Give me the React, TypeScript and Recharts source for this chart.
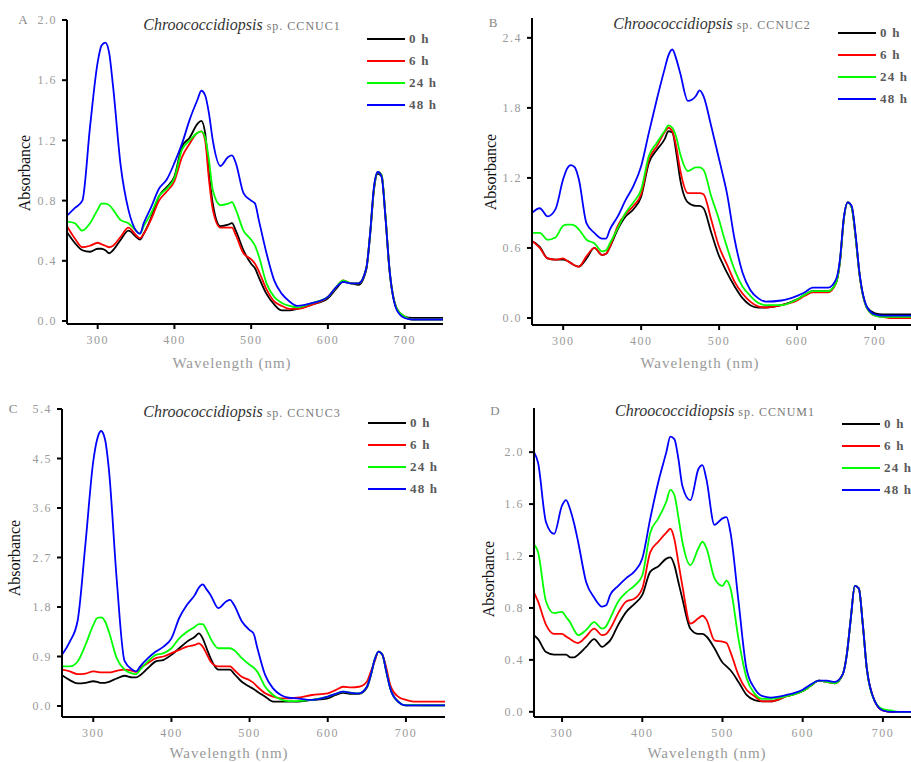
import { LineChart, Line, XAxis, YAxis, Legend } from "recharts"

// wavelength grid (nm) shared by all four spectra
const waveHead = [260, 270, 280, 290, 300, 305, 310, 315, 320, 330, 340, 350, 355, 360, 370, 380, 390, 400, 410, 420, 430, 435, 440, 445, 450, 460, 470, 475, 480, 490, 500, 505, 510, 520, 530, 540, 550, 560]
const waveTail = [580, 600, 610, 620, 630, 640, 650, 655, 660, 665, 670, 675, 680, 690, 700, 710, 720, 750]
const wavelength = [...waveHead, ...waveTail]
const wavelengthD = [265, ...wavelength.slice(1)]

const seriesNames = ["0 h", "6 h", "24 h", "48 h"]
const seriesKeys = ["h0", "h6", "h24", "h48"]
const seriesColors = ["#000000", "#ff0000", "#00ff00", "#0000ff"]

const xTicks = [300, 400, 500, 600, 700]
const yTicksA = [0, 0.4, 0.8, 1.2, 1.6, 2.0]
const yTicksB = [0, 0.6, 1.2, 1.8, 2.4]
const yTicksC = [0, 0.9, 1.8, 2.7, 3.6, 4.5, 5.4]
const yTicksD = [0, 0.4, 0.8, 1.2, 1.6, 2.0]

// A - CCNUC1
const a0 = [0.59, 0.52, 0.47, 0.46, 0.48, 0.48, 0.47, 0.45, 0.47, 0.54, 0.60, 0.56, 0.54, 0.58, 0.69, 0.83, 0.89, 0.96, 1.16, 1.22, 1.31, 1.33, 1.25, 0.98, 0.78, 0.63, 0.64, 0.65, 0.60, 0.47, 0.38, 0.35, 0.29, 0.18, 0.11, 0.07, 0.07, 0.08,
  0.11, 0.15, 0.21, 0.26, 0.25, 0.24, 0.34, 0.57, 0.87, 0.98, 0.96, 0.69, 0.35, 0.08, 0.03, 0.02, 0.02, 0.02]
const a6 = [0.63, 0.55, 0.49, 0.50, 0.52, 0.51, 0.50, 0.49, 0.50, 0.56, 0.62, 0.57, 0.55, 0.58, 0.68, 0.80, 0.86, 0.93, 1.09, 1.18, 1.25, 1.26, 1.20, 0.94, 0.74, 0.62, 0.62, 0.62, 0.57, 0.45, 0.41, 0.38, 0.33, 0.21, 0.13, 0.10, 0.08, 0.08,
  0.11, 0.16, 0.22, 0.27, 0.25, 0.25, 0.35, 0.58, 0.88, 0.99, 0.97, 0.70, 0.36, 0.08, 0.03, 0.01, 0.01, 0.01]
const a24 = [0.66, 0.65, 0.60, 0.65, 0.74, 0.78, 0.78, 0.77, 0.74, 0.67, 0.65, 0.60, 0.58, 0.63, 0.72, 0.83, 0.88, 0.95, 1.14, 1.20, 1.25, 1.26, 1.22, 1.07, 0.87, 0.77, 0.78, 0.79, 0.74, 0.60, 0.54, 0.50, 0.43, 0.25, 0.16, 0.12, 0.10, 0.09,
  0.12, 0.16, 0.22, 0.27, 0.25, 0.25, 0.35, 0.58, 0.88, 0.99, 0.97, 0.70, 0.36, 0.08, 0.03, 0.01, 0.01, 0.01]
const a48 = [0.70, 0.75, 0.80, 1.29, 1.72, 1.83, 1.85, 1.78, 1.56, 1.03, 0.74, 0.60, 0.58, 0.65, 0.76, 0.88, 0.94, 1.05, 1.18, 1.34, 1.47, 1.53, 1.50, 1.38, 1.20, 1.03, 1.09, 1.10, 1.05, 0.85, 0.80, 0.78, 0.67, 0.45, 0.27, 0.18, 0.13, 0.10,
  0.12, 0.16, 0.22, 0.26, 0.25, 0.25, 0.35, 0.58, 0.89, 0.99, 0.96, 0.69, 0.36, 0.07, 0.02, 0.01, 0.01, 0.01]

// B - CCNUC2
const b0 = [0.66, 0.61, 0.51, 0.50, 0.50, 0.49, 0.47, 0.45, 0.44, 0.51, 0.60, 0.54, 0.55, 0.61, 0.76, 0.87, 0.93, 1.04, 1.33, 1.44, 1.53, 1.60, 1.59, 1.42, 1.19, 0.99, 0.96, 0.96, 0.94, 0.73, 0.53, 0.46, 0.39, 0.27, 0.17, 0.11, 0.09, 0.09,
  0.11, 0.16, 0.20, 0.23, 0.23, 0.23, 0.30, 0.48, 0.85, 0.99, 0.95, 0.70, 0.38, 0.09, 0.04, 0.03, 0.03, 0.03]
const b6 = [0.66, 0.60, 0.51, 0.50, 0.51, 0.49, 0.47, 0.45, 0.44, 0.53, 0.60, 0.54, 0.55, 0.61, 0.79, 0.89, 0.96, 1.06, 1.36, 1.47, 1.59, 1.63, 1.60, 1.47, 1.27, 1.07, 1.07, 1.07, 1.06, 0.84, 0.61, 0.53, 0.46, 0.31, 0.21, 0.14, 0.10, 0.09,
  0.11, 0.15, 0.19, 0.22, 0.22, 0.22, 0.30, 0.48, 0.85, 0.99, 0.95, 0.70, 0.38, 0.08, 0.02, 0.01, 0.00, 0.00]
const b24 = [0.73, 0.73, 0.67, 0.69, 0.79, 0.80, 0.80, 0.79, 0.76, 0.67, 0.64, 0.57, 0.58, 0.64, 0.77, 0.90, 0.99, 1.10, 1.39, 1.50, 1.60, 1.65, 1.63, 1.55, 1.41, 1.26, 1.29, 1.29, 1.27, 1.04, 0.84, 0.72, 0.61, 0.41, 0.27, 0.19, 0.13, 0.11,
  0.11, 0.16, 0.20, 0.23, 0.23, 0.23, 0.30, 0.48, 0.85, 0.99, 0.95, 0.70, 0.38, 0.08, 0.02, 0.01, 0.01, 0.01]
const b48 = [0.90, 0.94, 0.87, 0.93, 1.19, 1.28, 1.31, 1.29, 1.19, 0.81, 0.73, 0.68, 0.68, 0.76, 0.87, 1.01, 1.13, 1.30, 1.59, 1.87, 2.13, 2.25, 2.30, 2.22, 2.10, 1.86, 1.90, 1.95, 1.90, 1.64, 1.36, 1.22, 1.07, 0.67, 0.39, 0.24, 0.17, 0.14,
  0.15, 0.19, 0.22, 0.26, 0.26, 0.26, 0.33, 0.50, 0.86, 0.99, 0.96, 0.72, 0.39, 0.09, 0.03, 0.02, 0.02, 0.02]

// C - CCNUC3
const c0 = [0.56, 0.47, 0.41, 0.42, 0.45, 0.44, 0.42, 0.42, 0.44, 0.50, 0.55, 0.52, 0.52, 0.56, 0.69, 0.81, 0.84, 0.93, 1.05, 1.17, 1.26, 1.32, 1.23, 1.05, 0.87, 0.66, 0.66, 0.66, 0.59, 0.44, 0.35, 0.31, 0.26, 0.17, 0.08, 0.08, 0.08, 0.08,
  0.11, 0.14, 0.20, 0.24, 0.22, 0.22, 0.33, 0.55, 0.84, 0.99, 0.93, 0.62, 0.32, 0.08, 0.01, 0.01, 0.01, 0.01]
const c6 = [0.66, 0.63, 0.58, 0.59, 0.63, 0.62, 0.61, 0.61, 0.61, 0.64, 0.66, 0.64, 0.62, 0.69, 0.78, 0.87, 0.90, 0.96, 1.02, 1.08, 1.11, 1.14, 1.08, 0.95, 0.81, 0.72, 0.72, 0.72, 0.66, 0.53, 0.47, 0.42, 0.35, 0.23, 0.17, 0.14, 0.14, 0.15,
  0.20, 0.23, 0.29, 0.35, 0.34, 0.35, 0.44, 0.62, 0.81, 0.99, 0.93, 0.69, 0.38, 0.17, 0.11, 0.08, 0.08, 0.08]
const c24 = [0.72, 0.72, 0.81, 1.11, 1.47, 1.60, 1.61, 1.54, 1.35, 0.87, 0.66, 0.59, 0.58, 0.66, 0.81, 0.93, 0.96, 1.05, 1.23, 1.35, 1.44, 1.49, 1.49, 1.38, 1.23, 1.05, 1.05, 1.05, 1.02, 0.87, 0.75, 0.70, 0.62, 0.35, 0.20, 0.12, 0.09, 0.09,
  0.11, 0.17, 0.22, 0.26, 0.24, 0.23, 0.35, 0.56, 0.84, 0.99, 0.93, 0.62, 0.32, 0.08, 0.01, 0.02, 0.01, 0.01]
const c48 = [0.93, 1.17, 1.55, 2.95, 4.45, 4.85, 5.00, 4.85, 4.30, 2.30, 0.82, 0.66, 0.63, 0.72, 0.87, 0.99, 1.08, 1.23, 1.60, 1.84, 2.02, 2.15, 2.21, 2.12, 2.02, 1.78, 1.90, 1.93, 1.84, 1.54, 1.38, 1.32, 1.05, 0.56, 0.32, 0.20, 0.15, 0.14,
  0.11, 0.17, 0.22, 0.26, 0.24, 0.23, 0.35, 0.56, 0.84, 0.99, 0.93, 0.62, 0.32, 0.08, 0.01, 0.01, 0.01, 0.01]

// D - CCNUM1
const d0 = [0.59, 0.56, 0.46, 0.44, 0.44, 0.44, 0.42, 0.42, 0.44, 0.50, 0.56, 0.50, 0.52, 0.55, 0.67, 0.77, 0.83, 0.90, 1.08, 1.12, 1.18, 1.19, 1.13, 1.00, 0.87, 0.64, 0.60, 0.60, 0.58, 0.49, 0.38, 0.35, 0.32, 0.23, 0.13, 0.09, 0.08, 0.08,
  0.12, 0.16, 0.20, 0.24, 0.23, 0.22, 0.29, 0.44, 0.72, 0.97, 0.95, 0.67, 0.33, 0.08, 0.01, 0.00, 0.00, 0.00]
const d6 = [0.92, 0.85, 0.67, 0.60, 0.60, 0.58, 0.56, 0.54, 0.53, 0.58, 0.64, 0.59, 0.60, 0.64, 0.76, 0.85, 0.87, 0.95, 1.23, 1.31, 1.38, 1.41, 1.33, 1.15, 0.97, 0.68, 0.72, 0.74, 0.71, 0.55, 0.54, 0.53, 0.46, 0.28, 0.17, 0.12, 0.08, 0.08,
  0.12, 0.16, 0.20, 0.24, 0.23, 0.22, 0.29, 0.44, 0.72, 0.97, 0.95, 0.67, 0.33, 0.08, 0.01, 0.00, 0.00, 0.00]
const d24 = [1.29, 1.23, 0.85, 0.76, 0.77, 0.73, 0.69, 0.63, 0.59, 0.63, 0.69, 0.64, 0.66, 0.72, 0.85, 0.92, 0.97, 1.05, 1.38, 1.49, 1.62, 1.71, 1.67, 1.50, 1.31, 1.13, 1.26, 1.31, 1.26, 1.03, 0.97, 1.01, 0.95, 0.56, 0.26, 0.14, 0.10, 0.10,
  0.12, 0.16, 0.20, 0.24, 0.23, 0.22, 0.29, 0.44, 0.72, 0.97, 0.95, 0.67, 0.33, 0.08, 0.02, 0.01, 0.00, 0.00]
const d48 = [2.00, 1.92, 1.46, 1.37, 1.59, 1.63, 1.56, 1.45, 1.31, 1.00, 0.88, 0.81, 0.82, 0.90, 0.97, 1.03, 1.08, 1.18, 1.49, 1.77, 2.00, 2.12, 2.10, 1.95, 1.74, 1.63, 1.87, 1.90, 1.79, 1.44, 1.49, 1.50, 1.38, 0.85, 0.33, 0.18, 0.12, 0.11,
  0.13, 0.17, 0.21, 0.24, 0.24, 0.23, 0.29, 0.44, 0.72, 0.97, 0.95, 0.67, 0.33, 0.08, 0.01, 0.00, 0.00, 0.00]

const serif = "'Liberation Serif', 'Times New Roman', serif"

function buildRows(waves, s0, s6, s24, s48) {
  return waves.map((w, i) => ({ w, h0: s0[i], h6: s6[i], h24: s24[i], h48: s48[i] }))
}

const panels = [
  {
    letter: "A", strain: "CCNUC1", rows: buildRows(wavelength, a0, a6, a24, a48),
    left: 0, top: 0, width: 460, height: 380, margin: { top: 20, right: 17, bottom: 26, left: 27 },
    xDomain: [260, 750], yDomain: [-0.02, 2.0], yTicks: yTicksA, legend: { left: 367, top: 28 },
    letterPos: [23, 20], titlePos: [242, 25], yLabelPos: [25, 173], xLabelPos: [232, 363],
  },
  {
    letter: "B", strain: "CCNUC2", rows: buildRows(wavelength, b0, b6, b24, b48),
    left: 455, top: 0, width: 470, height: 380, margin: { top: 18, right: 11, bottom: 25, left: 37 },
    xDomain: [260, 750], yDomain: [-0.06, 2.57], yTicks: yTicksB, legend: { left: 383, top: 22 },
    letterPos: [38, 23], titlePos: [257, 24], yLabelPos: [36, 172], xLabelPos: [245, 363],
  },
  {
    letter: "C", strain: "CCNUC3", rows: buildRows(wavelength, c0, c6, c24, c48),
    left: 0, top: 385, width: 460, height: 377, margin: { top: 24, right: 15, bottom: 15, left: 22 },
    xDomain: [260, 750], yDomain: [-0.2, 5.4], yTicks: yTicksC, legend: { left: 368, top: 27 },
    letterPos: [13, 24], titlePos: [242, 27], yLabelPos: [15, 173], xLabelPos: [229, 368],
  },
  {
    letter: "D", strain: "CCNUM1", rows: buildRows(wavelengthD, d0, d6, d24, d48),
    left: 455, top: 385, width: 480, height: 377, margin: { top: 23, right: 12, bottom: 15, left: 39 },
    xDomain: [265, 750], yDomain: [-0.04, 2.34], yTicks: yTicksD, legend: { left: 387, top: 28 },
    letterPos: [40, 26], titlePos: [260, 26], yLabelPos: [34, 194], xLabelPos: [252, 368],
  },
]

const axisLine = { stroke: "#000", strokeWidth: 2 }
const tickStyle = { fill: "#9a9a9a", fontSize: 12, fontFamily: serif, letterSpacing: 1.5 }

function renderLegend() {
  return (
    <div>
      {seriesNames.map((name, i) => (
        <div key={name} style={{ display: "flex", alignItems: "center", height: 22 }}>
          <svg width={38} height={4}>
            <line x1={0} y1={2} x2={38} y2={2} stroke={seriesColors[i]} strokeWidth={2} />
          </svg>
          <span style={{ marginLeft: 4, fontFamily: serif, fontSize: 13, fontWeight: "bold", color: "#5a5a5a", letterSpacing: 1.2 }}>
            {name}
          </span>
        </div>
      ))}
    </div>
  )
}

function centered(pos, extra = {}) {
  return { position: "absolute", left: pos[0], top: pos[1], transform: "translate(-50%, -50%)", whiteSpace: "nowrap", ...extra }
}

function Panel({ p }) {
  return (
    <div style={{ position: "absolute", left: p.left, top: p.top, width: p.width, height: p.height }}>
      <LineChart width={p.width} height={p.height} data={p.rows} margin={p.margin}>
        <XAxis
          dataKey="w" type="number" domain={p.xDomain} ticks={xTicks} allowDataOverflow
          axisLine={axisLine} tickLine={axisLine} tickSize={5} tickMargin={6} tick={tickStyle} height={30}
        />
        <YAxis
          type="number" domain={p.yDomain} ticks={p.yTicks} allowDataOverflow width={40}
          axisLine={axisLine} tickLine={axisLine} tickSize={5} tickMargin={5} tick={tickStyle}
          tickFormatter={(v) => v.toFixed(1)}
        />
        <Legend
          layout="horizontal" verticalAlign="middle" align="center"
          wrapperStyle={{ left: p.legend.left, top: p.legend.top, width: 100 }}
          content={renderLegend}
        />
        {seriesKeys.map((k, i) => (
          <Line key={k} dataKey={k} name={seriesNames[i]} stroke={seriesColors[i]} strokeWidth={1.8}
            dot={false} type="monotone" isAnimationActive={false} />
        ))}
      </LineChart>
      <div style={centered(p.letterPos, { fontFamily: serif, fontSize: 13, color: "#888" })}>{p.letter}</div>
      <div style={centered(p.titlePos, { fontFamily: serif })}>
        <span style={{ fontStyle: "italic", fontSize: 16, color: "#333" }}>Chroococcidiopsis</span>
        <span style={{ fontSize: 12, color: "#777", letterSpacing: 1 }}> sp. {p.strain}</span>
      </div>
      <div style={centered(p.yLabelPos, { fontFamily: serif, fontSize: 16, color: "#111", transform: "translate(-50%, -50%) rotate(-90deg)" })}>
        Absorbance
      </div>
      <div style={centered(p.xLabelPos, { fontFamily: serif, fontSize: 15, color: "#999", letterSpacing: 1 })}>
        Wavelength (nm)
      </div>
    </div>
  )
}

export default function App() {
  return (
    <div style={{ position: "absolute", left: 0, top: 0, width: 911, height: 762, overflow: "hidden", background: "#fff" }}>
      {panels.map((p) => (
        <Panel key={p.letter} p={p} />
      ))}
    </div>
  )
}
